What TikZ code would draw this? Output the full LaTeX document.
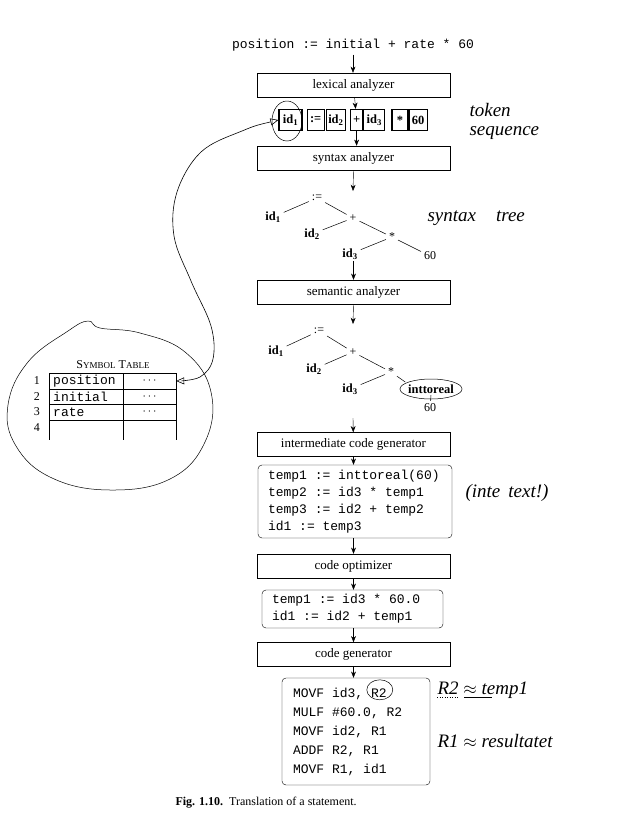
\documentclass[tikz,border=0pt]{standalone}
\usepackage{fontspec}
\setmainfont{Liberation Serif}
\setmonofont{Liberation Mono}
\usepackage{tikz}
\usetikzlibrary{calc,positioning,arrows.meta,shapes.geometric}

\newcommand{\codefont}[1]{\fontsize{13}{#1}\selectfont\ttfamily}

\begin{document}
\begin{tikzpicture}[
    x=1pt, y=-1pt,
    font=\fontsize{13}{15}\selectfont,
    >={Stealth[length=2.2mm, width=1.7mm]},
    stage/.style={draw=black, rectangle, minimum width=193pt, minimum height=24pt, inner sep=1pt},
    tok/.style={draw=black, very thick, rectangle, minimum height=21pt, inner sep=1pt,
                font=\fontsize{12.5}{12}\selectfont\bfseries},
    leaf/.style={inner sep=1.5pt, font=\fontsize{12.5}{12}\selectfont\bfseries},
    opnd/.style={inner sep=1.5pt, font=\fontsize{12}{12}\selectfont},
    code/.style={draw=black, rounded corners=4pt, align=left, inner xsep=10pt, font=\codefont{17},
                 execute at begin node={\spaceskip=7.8pt\xspaceskip=7.8pt\relax}},
    cell/.style={inner sep=0pt, minimum height=15pt, font=\codefont{14}},
    hand/.style={font=\fontsize{19}{21}\selectfont\itshape, align=left, anchor=west},
    ring/.style={draw=black, line width=0.5pt},
    twig/.style={line width=0.5pt, shorten <=1.5pt, shorten >=1.5pt},
    link/.style={line width=0.6pt, arrows={Triangle[open,length=8pt,width=7pt]-Triangle[open,length=8pt,width=7pt]}}
  ]
    \useasboundingbox (0,0) rectangle (625,828);

    % main pipeline
    \node[font=\codefont{15}] (src) at (353,45) {position := initial + rate * 60};
    \node[stage] (lex) at (353.5,85) {lexical analyzer};

    \node[tok, minimum width=23pt] (tid1) at (290.5,120) {id\textsubscript{1}};
    \node[tok, minimum width=17pt, right=4pt of tid1] (tasg) {:=};
    \node[tok, minimum width=19pt, right=1pt of tasg] (tid2) {id\textsubscript{2}};
    \node[tok, minimum width=12pt, right=4pt of tid2] (tplus) {+};
    \node[tok, minimum width=21pt, right=0pt of tplus] (tid3) {id\textsubscript{3}};
    \node[tok, minimum width=16pt, right=6pt of tid3] (tmul) {*};
    \node[tok, minimum width=18pt, right=0pt of tmul] (t60) {60};

    \node[stage] (syn) at (353.5,158) {syntax analyzer};

    % syntax tree
    \coordinate (t1top) at (353,191);
    \node[opnd] (asg1) at (317,198) {:=};
    \node[leaf] (id1a) at (273,217) {id\textsubscript{1}};
    \node[opnd] (plus1) at (353,218) {+};
    \node[leaf] (id2a) at (312,234) {id\textsubscript{2}};
    \node[opnd] (mul1) at (392,237) {*};
    \node[leaf] (id3a) at (350,254) {id\textsubscript{3}};
    \node[opnd] (n60a) at (430,256) {60};

    \node[stage] (sem) at (353.5,292) {semantic analyzer};

    % annotated tree
    \coordinate (t2top) at (353,324);
    \node[opnd] (asg2) at (319,331) {:=};
    \node[leaf] (id1b) at (276,351) {id\textsubscript{1}};
    \node[opnd] (plus2) at (353,352) {+};
    \node[leaf] (id2b) at (314,369) {id\textsubscript{2}};
    \node[opnd] (mul2) at (391,372) {*};
    \node[leaf] (id3b) at (350,389) {id\textsubscript{3}};
    \node[leaf] (itr) at (431,389) {inttoreal};
    \node[opnd] (n60b) at (430,408) {60};
    \coordinate (t2bot) at (353,418);

    \node[stage] (icg) at (353.5,444.5) {intermediate code generator};
    \node[code, text width=174pt, minimum height=73pt] (code1) at (355,501.5)
      {temp1 := inttoreal(60)\\temp2 := id3 * temp1\\temp3 := id2 + temp2\\id1 := temp3};
    \node[stage] (opt) at (353.5,566) {code optimizer};
    \node[code, text width=161pt, minimum height=38pt] (code2) at (352.5,609)
      {temp1 := id3 * 60.0\\id1 := id2 + temp1};
    \node[stage] (gen) at (353.5,654.5) {code generator};
    \node[code, text width=126pt, inner xsep=11pt, minimum height=107pt, font=\codefont{19}]
      (code3) at (356,731.5)
      {MOVF id3, R2\\MULF \#60.0, R2\\MOVF id2, R1\\ADDF R2, R1\\MOVF R1, id1};

    \node[anchor=west, font=\fontsize{12}{14}\selectfont] (caption) at (172,803)
      {\textbf{Fig. 1.10.}\hspace{6pt}Translation of a statement.};

    % symbol table
    \node[font=\fontsize{12}{14}\selectfont] (symtitle) at (113,365)
      {S{\fontsize{9}{10}\selectfont YMBOL} T{\fontsize{9}{10}\selectfont ABLE}};
    \node[cell, anchor=west] (nm1) at (53,381) {position};
    \node[cell, anchor=west] (nm2) at (53,397) {initial};
    \node[cell, anchor=west] (nm3) at (53,412) {rate};
    \node[cell, minimum width=53pt] (at1) at (149.5,381) {$\cdots$};
    \node[cell, minimum width=53pt] (at2) at (149.5,397) {$\cdots$};
    \node[cell, minimum width=53pt] (at3) at (149.5,412) {$\cdots$};
    \node[opnd] (rn1) at (37,381) {1};
    \node[opnd] (rn2) at (37,397) {2};
    \node[opnd] (rn3) at (37,412) {3};
    \node[opnd] (rn4) at (37,428) {4};
    \draw[thick] (49,373) -- (176,373);
    \draw[thick] (49,389) -- (176,389);
    \draw[thick] (49,404) -- (176,404);
    \draw (49,420) -- (176,420);
    \draw (49,373) -- (49,440);
    \draw (123,373) -- (123,440);
    \draw[thick] (176,373) -- (176,440);

    % pipeline arrows
    \draw[->] (src) -- (src |- lex.north);
    \draw[->] (lex) -- (tplus);
    \draw[->] (tplus) -- (tplus |- syn.north);
    \draw[->] (syn.south) -- (t1top);
    \draw[->] (id3a.south -| sem.north) -- (sem);
    \draw[->] (sem.south) -- (t2top);
    \draw[->] (t2bot) -- (icg);
    \draw[->] (icg) -- (icg |- code1.north);
    \draw[->] (code1.south -| opt.north) -- (opt);
    \draw[->] (opt) -- (opt |- code2.north);
    \draw[->] (code2.south -| gen.north) -- (gen);
    \draw[->] (gen) -- (gen |- code3.north);

    % tree edges
    \draw[twig] (id1a) -- (asg1);
    \draw[twig] (asg1) -- (plus1);
    \draw[twig] (id2a) -- (plus1);
    \draw[twig] (plus1) -- (mul1);
    \draw[twig] (id3a) -- (mul1);
    \draw[twig] (mul1) -- (n60a);
    \draw[twig] (id1b) -- (asg2);
    \draw[twig] (asg2) -- (plus2);
    \draw[twig] (id2b) -- (plus2);
    \draw[twig] (plus2) -- (mul2);
    \draw[twig] (id3b) -- (mul2);
    \draw[twig] (mul2) -- (itr.north west);
    \draw[twig, shorten <=0pt] (itr.south) -- (n60b);

    % hand notes
    \draw[ring] (287,121) ellipse (15 and 20);
    \draw[ring] (itr) ellipse (31 and 10);
    \draw[ring] ($(code3.north west)+(98,12)$) ellipse (13 and 10);
    \draw[ring] plot[smooth cycle, tension=0.7] coordinates {(88,321) (100,328) (140,333) (185,352)
      (211,392) (205,442) (170,479) (110,490) (52,478) (16,446) (8,405) (28,362) (68,331)};
    \draw[link] plot[smooth, tension=0.6] coordinates {(tid1.west) (242,131) (201,152) (177,192)
      (174,236) (191,281) (211,326) (213,359) (200,377) (at1.east)};

    \node[hand] (tokseq) at (466,121) {token\\[-2pt]sequence};
    \node[hand] (syntree) at (424,218) {syntax\hspace{20pt}tree};
    \node[hand] (intetext) at (462,493) {(inte\hspace{8pt}text!)};
    \node[hand] (r2note) at (434,690) {R2 $\approx$ temp1};
    \node[hand] (r1note) at (434,741) {R1 $\approx$ resultatet};
    \draw[ring, dotted] (r2note.south west) ++(3,-5) -- ++(22,0);
    \draw[ring] (r2note.south west) ++(30,-5) -- ++(28,0);
  \end{tikzpicture}
\end{document}
